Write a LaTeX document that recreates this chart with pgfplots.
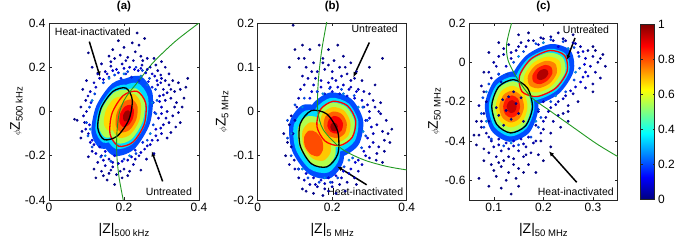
\documentclass[border=0pt]{standalone}
\usepackage{pgfplots}
\pgfplotsset{compat=1.18}
\usepackage{fontspec}
\setmainfont{Liberation Sans}
\usetikzlibrary{arrows.meta}
\definecolor{c20}{rgb}{0,0.3,1}
\definecolor{c34}{rgb}{0,0.86,1}
\definecolor{c55}{rgb}{0.7,1,0.3}
\definecolor{c66}{rgb}{1,0.86,0}
\definecolor{c68}{rgb}{1,0.78,0}
\definecolor{c75}{rgb}{1,0.5,0}
\definecolor{c78}{rgb}{1,0.38,0}
\definecolor{c80}{rgb}{1,0.3,0}
\definecolor{c85}{rgb}{1,0.1,0}
\definecolor{c88}{rgb}{0.98,0,0}
\definecolor{c93}{rgb}{0.78,0,0}
\definecolor{c95}{rgb}{0.7,0,0}
\definecolor{c97}{rgb}{0.62,0,0}
\definecolor{mgreen}{rgb}{0.13,0.6,0.13}
\pgfplotsset{
 panel/.style={scale only axis, height=177pt, anchor=south west,
   axis line style={draw=black!85, line width=0.6pt},
   every tick/.style={black!85, line width=0.5pt},
   major tick length=2.5pt, tick align=inside,
   tick label style={font=\fontsize{12}{12}\selectfont},
   /pgf/number format/assume math mode=true,
   /pgf/number format/fixed,
   colormap/jet, point meta min=0, point meta max=1,
   xlabel style={at={(axis description cs:0.5,0)}, anchor=north, yshift=-23pt, inner sep=0pt, font=\fontsize{14}{14}\selectfont},
   ylabel style={at={(axis description cs:0,0.5)}, anchor=south, inner sep=0pt, font=\fontsize{14}{14}\selectfont},
   title style={at={(axis description cs:0.5,1)}, anchor=south, yshift=5pt, inner sep=0pt, font=\fontsize{11.5}{12}\selectfont\bfseries},
 },
 lay/.style={draw=none, fill=#1, smooth cycle, forget plot},
 ell/.style={draw=#1, line width=1.3pt, smooth cycle, forget plot},
 pts/.style={scatter, only marks, mark=*, mark size=1.2pt, point meta=explicit, forget plot},
 grn/.style={draw=mgreen, line width=0.9pt, smooth, forget plot, no markers},
}
\tikzset{
 ann/.style={font=\fontsize{10.5}{11}\selectfont, inner sep=0pt},
 arr/.style={-{Latex[length=5pt,width=4.5pt]}, line width=1.5pt, black},
}
\newcommand{\sub}[1]{\raisebox{-2.8pt}{\fontsize{9.5}{10}\selectfont #1}}
\newcommand{\phz}{{\fontsize{9}{9}\selectfont$\phi$}Z}
\begin{document}
\begin{tikzpicture}
\useasboundingbox (0,0) rectangle (675pt,243pt);
% ---------------- (a)
\begin{axis}[panel, at={(49pt,43pt)}, width=150pt,
  xmin=0, xmax=0.4, ymin=-0.4, ymax=0.4,
  xtick={0,0.2,0.4}, ytick={-0.4,-0.2,0,0.2,0.4},
  title={(a)}, xlabel={|Z|\sub{500 kHz}}, ylabel={\phz\sub{500 kHz}},
  ylabel style={yshift=26pt}]
\addplot[pts] coordinates {
(0.150,0.180)[0.08] (0.165,0.205)[0.06] (0.180,0.190)[0.1] (0.195,0.215)[0.07] (0.205,0.170)[0.14] (0.215,0.200)[0.09] (0.225,0.230)[0.06] (0.238,0.185)[0.11] (0.248,0.210)[0.07] (0.258,0.175)[0.12] (0.270,0.200)[0.06] (0.282,0.160)[0.09] (0.290,0.185)[0.05] (0.300,0.150)[0.07] (0.175,0.240)[0.04] (0.190,0.255)[0.05] (0.210,0.245)[0.05] (0.230,0.270)[0.03] (0.245,0.250)[0.04] (0.262,0.240)[0.05] (0.200,0.290)[0.03] (0.222,0.310)[0.03] (0.240,0.300)[0.03] (0.185,0.320)[0.02] (0.255,0.330)[0.02] (0.160,0.250)[0.04] (0.140,0.215)[0.05] (0.130,0.170)[0.07] (0.145,0.145)[0.12] (0.160,0.155)[0.14] (0.192,0.150)[0.17] (0.220,0.155)[0.16] (0.240,0.140)[0.17] (0.265,0.135)[0.14] (0.275,0.110)[0.15] (0.310,0.200)[0.04] (0.320,0.170)[0.05] (0.115,0.200)[0.04] (0.105,0.265)[0.02] (0.235,0.355)[0.02] (0.280,0.240)[0.03] (0.300,0.225)[0.04] (0.170,0.280)[0.03]
(0.290,0.120)[0.08] (0.305,0.100)[0.06] (0.320,0.120)[0.05] (0.335,0.090)[0.04] (0.350,0.100)[0.03] (0.365,0.110)[0.02] (0.295,0.070)[0.11] (0.310,0.050)[0.07] (0.325,0.060)[0.05] (0.340,0.040)[0.04] (0.355,0.020)[0.03] (0.300,0.020)[0.10] (0.315,0.000)[0.07] (0.330,-0.020)[0.05] (0.345,-0.005)[0.04] (0.292,-0.030)[0.10] (0.305,-0.060)[0.07] (0.320,-0.050)[0.05] (0.338,-0.070)[0.04] (0.285,-0.080)[0.12] (0.300,-0.100)[0.08] (0.315,-0.120)[0.05] (0.330,0.140)[0.03] (0.345,0.130)[0.03] (0.360,0.060)[0.02] (0.370,0.150)[0.02] (0.278,0.040)[0.16] (0.282,-0.005)[0.16] (0.350,-0.050)[0.03]
(0.150,-0.180)[0.12] (0.140,-0.200)[0.08] (0.160,-0.215)[0.09] (0.175,-0.200)[0.13] (0.130,-0.230)[0.05] (0.150,-0.245)[0.07] (0.170,-0.250)[0.06] (0.185,-0.235)[0.09] (0.140,-0.270)[0.04] (0.160,-0.280)[0.04] (0.180,-0.285)[0.04] (0.155,-0.310)[0.03] (0.175,-0.330)[0.02] (0.125,-0.300)[0.02] (0.200,-0.260)[0.05] (0.210,-0.220)[0.10] (0.225,-0.240)[0.06] (0.240,-0.200)[0.09] (0.255,-0.170)[0.10] (0.270,-0.150)[0.09] (0.260,-0.215)[0.05] (0.280,-0.190)[0.05] (0.245,-0.265)[0.03] (0.115,-0.180)[0.06] (0.120,-0.150)[0.10] (0.105,-0.205)[0.04] (0.195,-0.300)[0.03] (0.135,-0.160)[0.14] (0.230,-0.175)[0.15] (0.250,-0.140)[0.16] (0.290,-0.130)[0.07] (0.215,-0.270)[0.04]
(0.105,-0.100)[0.08] (0.095,-0.050)[0.06] (0.100,0.000)[0.07] (0.098,0.050)[0.05] (0.110,0.090)[0.08] (0.085,-0.120)[0.04] (0.075,-0.040)[0.03] (0.068,-0.035)[0.02] (0.090,0.100)[0.04] (0.110,-0.140)[0.10] (0.120,0.130)[0.08] (0.112,0.040)[0.14] (0.108,-0.060)[0.13] (0.100,0.140)[0.05]
(0.155,0.170)[0.1] (0.170,0.185)[0.12] (0.185,0.175)[0.15] (0.200,0.195)[0.1] (0.228,0.190)[0.12] (0.245,0.195)[0.09] (0.262,0.190)[0.08] (0.275,0.170)[0.1] (0.288,0.140)[0.1] (0.298,0.130)[0.08] (0.310,0.140)[0.06] (0.298,0.165)[0.06] (0.315,0.085)[0.07] (0.305,0.075)[0.08] (0.295,0.045)[0.12] (0.300,-0.010)[0.1] (0.312,-0.030)[0.07] (0.298,-0.075)[0.09] (0.285,-0.110)[0.1] (0.275,-0.130)[0.1] (0.262,-0.155)[0.1] (0.245,-0.185)[0.1] (0.220,-0.205)[0.11] (0.195,-0.225)[0.1] (0.170,-0.230)[0.09] (0.145,-0.220)[0.09] (0.125,-0.190)[0.09] (0.115,-0.130)[0.12] (0.098,-0.080)[0.09] (0.092,-0.020)[0.07] (0.104,0.070)[0.08] (0.125,0.110)[0.1] (0.135,0.150)[0.09] (0.165,0.225)[0.05] (0.205,0.230)[0.06] (0.250,0.230)[0.05] (0.285,0.210)[0.04] (0.325,0.100)[0.04] (0.335,0.020)[0.04] (0.325,-0.095)[0.04] (0.165,-0.265)[0.05] (0.190,-0.270)[0.05] (0.145,-0.290)[0.03] (0.230,-0.215)[0.07] (0.120,-0.260)[0.03] (0.210,-0.290)[0.03] (0.085,0.020)[0.04] (0.088,-0.090)[0.04]
(0.249,0.185)[0.2] (0.268,0.150)[0.2] (0.284,0.100)[0.2] (0.288,0.050)[0.22] (0.285,-0.010)[0.22] (0.278,-0.060)[0.2] (0.262,-0.130)[0.2] (0.232,-0.190)[0.2] (0.200,-0.215)[0.2] (0.165,-0.225)[0.2] (0.138,-0.205)[0.2] (0.115,-0.160)[0.2] (0.104,-0.110)[0.22] (0.100,-0.050)[0.2] (0.108,0.020)[0.2] (0.122,0.080)[0.2] (0.145,0.130)[0.2] (0.175,0.165)[0.2] (0.210,0.180)[0.2] (0.232,0.200)[0.18]
(0.262,0.120)[0.26] (0.275,0.040)[0.27] (0.270,-0.100)[0.26] (0.215,-0.200)[0.27] (0.150,-0.200)[0.26] (0.110,-0.080)[0.27] (0.115,0.050)[0.26] (0.160,0.150)[0.27] (0.200,0.170)[0.26] (0.245,0.160)[0.26]
};
\addplot[lay=c20] coordinates {(0.243,0.160) (0.276,0.082) (0.269,-0.055) (0.226,-0.172) (0.172,-0.200) (0.138,-0.122) (0.145,0.015) (0.188,0.132)};
\addplot[lay=c20] coordinates {(0.215,0.147) (0.239,0.076) (0.226,-0.045) (0.184,-0.146) (0.137,-0.167) (0.113,-0.096) (0.126,0.025) (0.168,0.126)};
\addplot[lay=c34] coordinates {(0.236,0.129) (0.264,0.065) (0.259,-0.049) (0.223,-0.146) (0.178,-0.169) (0.150,-0.105) (0.156,0.009) (0.191,0.106)};
\addplot[lay=c34] coordinates {(0.208,0.120) (0.228,0.062) (0.217,-0.039) (0.182,-0.123) (0.144,-0.140) (0.124,-0.082) (0.135,0.019) (0.170,0.103)};
\addplot[lay=c55] coordinates {(0.232,0.104) (0.255,0.050) (0.250,-0.044) (0.220,-0.125) (0.183,-0.144) (0.159,-0.090) (0.164,0.004) (0.194,0.085)};
\addplot[lay=c55] coordinates {(0.203,0.097) (0.219,0.049) (0.210,-0.034) (0.181,-0.103) (0.150,-0.117) (0.133,-0.069) (0.142,0.014) (0.171,0.083)};
\addplot[lay=c66] coordinates {(0.195,0.066) (0.206,0.032) (0.200,-0.027) (0.180,-0.076) (0.157,-0.086) (0.146,-0.052) (0.152,0.007) (0.172,0.056)};
\addplot[lay=c68] coordinates {(0.227,0.079) (0.245,0.036) (0.241,-0.040) (0.217,-0.104) (0.187,-0.119) (0.169,-0.076) (0.173,0.000) (0.197,0.064)};
\addplot[lay=c78] coordinates {(0.222,0.054) (0.236,0.022) (0.233,-0.035) (0.215,-0.083) (0.192,-0.094) (0.178,-0.062) (0.181,-0.005) (0.199,0.043)};
\addplot[lay=c88] coordinates {(0.217,0.030) (0.226,0.008) (0.224,-0.030) (0.212,-0.062) (0.197,-0.070) (0.188,-0.048) (0.190,-0.010) (0.202,0.022)};
\addplot[lay=c97] coordinates {(0.212,0.005) (0.217,-0.006) (0.216,-0.025) (0.210,-0.041) (0.202,-0.045) (0.198,-0.034) (0.198,-0.015) (0.204,0.001)};
\addplot[ell=red] coordinates {(0.235,0.091) (0.258,0.037) (0.254,-0.057) (0.224,-0.138) (0.186,-0.157) (0.163,-0.103) (0.168,-0.009) (0.198,0.072)};
\addplot[ell=black] coordinates {(0.205,0.106) (0.222,0.053) (0.213,-0.037) (0.182,-0.111) (0.147,-0.127) (0.130,-0.074) (0.139,0.016) (0.170,0.090)};
\addplot[grn] coordinates {(0.198,-0.40) (0.187,-0.30) (0.181,-0.20) (0.181,-0.10) (0.187,-0.01) (0.200,0.05) (0.216,0.09) (0.240,0.14) (0.277,0.22) (0.336,0.316) (0.40,0.40)};
\node[ann] at (axis cs:0.117,0.361) {Heat-inactivated};
\draw[arr] (axis cs:0.1075,0.316) -- (axis cs:0.136,0.158);
\node[ann] at (axis cs:0.3195,-0.3635) {Untreated};
\draw[arr] (axis cs:0.303,-0.316) -- (axis cs:0.274,-0.180);
\end{axis}
% ---------------- (b)
\begin{axis}[panel, at={(257.7pt,43pt)}, width=149pt,
  xmin=0, xmax=0.4, ymin=-0.2, ymax=0.2,
  xtick={0,0.2,0.4}, ytick={-0.2,-0.1,0,0.1,0.2},
  title={(b)}, xlabel={|Z|\sub{5 MHz}}, ylabel={\phz\sub{5 MHz}},
  ylabel style={yshift=29pt}]
\addplot[pts] coordinates {
(0.140,0.030)[0.14] (0.160,0.045)[0.12] (0.180,0.040)[0.15] (0.200,0.045)[0.14] (0.220,0.040)[0.15] (0.240,0.035)[0.14] (0.260,0.030)[0.12] (0.150,0.060)[0.09] (0.170,0.070)[0.08] (0.190,0.065)[0.09] (0.210,0.070)[0.08] (0.230,0.060)[0.09] (0.250,0.055)[0.08] (0.270,0.050)[0.07] (0.135,0.075)[0.06] (0.160,0.090)[0.06] (0.180,0.095)[0.05] (0.200,0.090)[0.06] (0.220,0.100)[0.05] (0.240,0.085)[0.05] (0.130,0.100)[0.04] (0.150,0.110)[0.04] (0.175,0.120)[0.03] (0.205,0.115)[0.04] (0.230,0.125)[0.03] (0.120,0.080)[0.05] (0.110,0.120)[0.03] (0.140,0.140)[0.03] (0.190,0.140)[0.02] (0.100,0.140)[0.02] (0.085,0.100)[0.02] (0.115,0.050)[0.08] (0.280,0.070)[0.04] (0.300,0.040)[0.05] (0.260,0.075)[0.05] (0.120,0.150)[0.02] (0.095,0.195)[0.01] (0.215,0.150)[0.02] (0.165,0.150)[0.02] (0.300,0.100)[0.02] (0.335,0.120)[0.02] (0.250,0.110)[0.03]
(0.285,0.010)[0.12] (0.300,0.000)[0.09] (0.315,0.010)[0.06] (0.330,-0.005)[0.05] (0.345,-0.020)[0.04] (0.290,-0.020)[0.14] (0.305,-0.035)[0.10] (0.320,-0.030)[0.07] (0.335,-0.045)[0.05] (0.350,-0.050)[0.03] (0.295,-0.060)[0.12] (0.310,-0.070)[0.08] (0.325,-0.080)[0.06] (0.340,-0.090)[0.04] (0.355,-0.070)[0.03] (0.285,-0.090)[0.11] (0.300,-0.105)[0.07] (0.318,-0.110)[0.05] (0.335,-0.115)[0.03] (0.280,-0.120)[0.08] (0.360,-0.040)[0.02] (0.310,0.025)[0.05] (0.330,0.020)[0.04] (0.270,-0.110)[0.10]
(0.130,-0.140)[0.10] (0.150,-0.150)[0.09] (0.170,-0.155)[0.10] (0.190,-0.150)[0.11] (0.210,-0.145)[0.11] (0.230,-0.135)[0.12] (0.250,-0.130)[0.12] (0.140,-0.165)[0.06] (0.160,-0.170)[0.06] (0.180,-0.175)[0.05] (0.200,-0.170)[0.06] (0.220,-0.165)[0.05] (0.240,-0.160)[0.05] (0.260,-0.150)[0.06] (0.150,-0.185)[0.03] (0.175,-0.190)[0.03] (0.210,-0.185)[0.03] (0.120,-0.175)[0.03] (0.235,-0.180)[0.03] (0.270,-0.135)[0.07] (0.110,-0.150)[0.05]
(0.100,-0.020)[0.06] (0.095,-0.050)[0.06] (0.090,-0.080)[0.05] (0.098,-0.110)[0.06] (0.085,-0.030)[0.03] (0.080,-0.070)[0.03] (0.105,0.010)[0.08] (0.110,-0.130)[0.08] (0.075,-0.100)[0.02]
(0.145,0.045)[0.1] (0.170,0.055)[0.1] (0.195,0.055)[0.11] (0.215,0.055)[0.11] (0.245,0.050)[0.1] (0.265,0.045)[0.1] (0.155,0.075)[0.07] (0.200,0.075)[0.07] (0.225,0.080)[0.07] (0.250,0.070)[0.06] (0.145,0.090)[0.05] (0.190,0.105)[0.04] (0.235,0.100)[0.04] (0.265,0.090)[0.04] (0.285,0.045)[0.07] (0.280,0.025)[0.1] (0.295,0.015)[0.09] (0.300,-0.015)[0.1] (0.310,-0.050)[0.08] (0.300,-0.080)[0.09] (0.290,-0.100)[0.09] (0.262,-0.115)[0.11] (0.245,-0.140)[0.1] (0.225,-0.150)[0.09] (0.200,-0.160)[0.08] (0.180,-0.163)[0.08] (0.155,-0.165)[0.08] (0.125,-0.155)[0.08] (0.100,-0.130)[0.07] (0.085,-0.120)[0.05] (0.070,-0.050)[0.03] (0.090,-0.010)[0.05] (0.110,0.030)[0.07] (0.125,0.060)[0.07] (0.320,-0.095)[0.05] (0.340,-0.065)[0.04] (0.325,0.000)[0.05] (0.265,-0.165)[0.04] (0.190,-0.180)[0.04] (0.130,-0.180)[0.03] (0.315,0.060)[0.03] (0.175,0.110)[0.04] (0.125,0.120)[0.03]
(0.193,0.052)[0.2] (0.225,0.050)[0.2] (0.259,0.036)[0.2] (0.282,0.010)[0.22] (0.294,-0.020)[0.2] (0.290,-0.055)[0.2] (0.279,-0.082)[0.2] (0.255,-0.105)[0.22] (0.232,-0.125)[0.2] (0.215,-0.150)[0.2] (0.195,-0.160)[0.2] (0.165,-0.160)[0.2] (0.135,-0.150)[0.2] (0.110,-0.130)[0.2] (0.090,-0.100)[0.2] (0.080,-0.060)[0.2] (0.080,-0.020)[0.2] (0.100,0.015)[0.2] (0.125,0.030)[0.2] (0.160,0.045)[0.2]
(0.270,0.010)[0.27] (0.283,-0.045)[0.27] (0.245,-0.110)[0.27] (0.180,-0.150)[0.27] (0.120,-0.130)[0.27] (0.090,-0.050)[0.27] (0.120,0.010)[0.27] (0.175,0.040)[0.27] (0.230,0.040)[0.26]
};
\addplot[lay=c20] coordinates {(0.195,0.043) (0.252,0.028) (0.283,-0.020) (0.271,-0.075) (0.221,-0.103) (0.164,-0.088) (0.133,-0.040) (0.146,0.015)};
\addplot[lay=c20] coordinates {(0.122,0.015) (0.179,0.005) (0.224,-0.048) (0.230,-0.112) (0.194,-0.151) (0.137,-0.141) (0.092,-0.088) (0.086,-0.024)};
\addplot[lay=c34] coordinates {(0.197,0.031) (0.244,0.018) (0.270,-0.022) (0.260,-0.067) (0.219,-0.091) (0.172,-0.078) (0.146,-0.038) (0.156,0.007)};
\addplot[lay=c34] coordinates {(0.128,0.002) (0.176,-0.007) (0.214,-0.051) (0.219,-0.106) (0.189,-0.138) (0.140,-0.130) (0.102,-0.085) (0.097,-0.031)};
\addplot[lay=c55] coordinates {(0.199,0.020) (0.238,0.010) (0.260,-0.023) (0.251,-0.061) (0.217,-0.080) (0.178,-0.070) (0.156,-0.037) (0.165,0.001)};
\addplot[lay=c55] coordinates {(0.133,-0.011) (0.173,-0.018) (0.204,-0.054) (0.208,-0.099) (0.183,-0.125) (0.144,-0.118) (0.113,-0.082) (0.108,-0.037)};
\addplot[lay=c68] coordinates {(0.201,0.010) (0.232,0.002) (0.249,-0.025) (0.243,-0.055) (0.215,-0.070) (0.184,-0.062) (0.167,-0.035) (0.174,-0.005)};
\addplot[lay=c68] coordinates {(0.139,-0.025) (0.169,-0.030) (0.192,-0.058) (0.196,-0.091) (0.177,-0.111) (0.147,-0.106) (0.124,-0.079) (0.120,-0.045)};
\addplot[lay=c80] coordinates {(0.138,-0.043) (0.157,-0.047) (0.173,-0.065) (0.175,-0.087) (0.163,-0.101) (0.143,-0.097) (0.127,-0.079) (0.125,-0.057)};
\addplot[lay=c78] coordinates {(0.203,0.000) (0.226,-0.006) (0.239,-0.026) (0.234,-0.049) (0.214,-0.060) (0.190,-0.054) (0.177,-0.034) (0.182,-0.011)};
\addplot[lay=c88] coordinates {(0.204,-0.010) (0.220,-0.014) (0.229,-0.027) (0.225,-0.043) (0.212,-0.050) (0.196,-0.046) (0.187,-0.033) (0.191,-0.018)};
\addplot[lay=c97] coordinates {(0.203,-0.025) (0.211,-0.027) (0.215,-0.034) (0.214,-0.041) (0.207,-0.045) (0.199,-0.043) (0.195,-0.036) (0.196,-0.029)};
\addplot[ell=red] coordinates {(0.202,0.023) (0.241,0.013) (0.263,-0.020) (0.254,-0.058) (0.220,-0.077) (0.181,-0.067) (0.159,-0.034) (0.168,0.004)};
\addplot[ell=black] coordinates {(0.144,0.002) (0.186,-0.006) (0.215,-0.046) (0.215,-0.096) (0.186,-0.125) (0.144,-0.118) (0.114,-0.077) (0.114,-0.028)};
\addplot[grn] coordinates {(0.187,0.21) (0.172,0.139) (0.163,0.072) (0.161,0.004) (0.176,-0.041) (0.225,-0.084) (0.284,-0.109) (0.346,-0.124) (0.40,-0.132)};
\node[ann] at (axis cs:0.314,0.186) {Untreated};
\draw[arr] (axis cs:0.2997,0.156) -- (axis cs:0.2567,0.0777);
\node[ann] at (axis cs:0.2886,-0.181) {Heat-inactivated};
\draw[arr] (axis cs:0.2926,-0.1657) -- (axis cs:0.2137,-0.1243);
\end{axis}
% ---------------- (c)
\begin{axis}[panel, at={(469pt,43pt)}, width=148.7pt,
  xmin=0.05, xmax=0.35, ymin=-0.7, ymax=0.2,
  xtick={0.1,0.2,0.3}, ytick={-0.6,-0.4,-0.2,0,0.2},
  title={(c)}, xlabel={|Z|\sub{50 MHz}}, ylabel={\phz\sub{50 MHz}},
  ylabel style={yshift=28pt},
  colorbar, colorbar style={at={(parent axis.north east)}, anchor=north west, xshift=14.3pt, yshift=-1pt,
    scale only axis, width=14pt, height=175pt, ytick={0,0.2,0.4,0.6,0.8,1}, yticklabel pos=right,
    tick label style={font=\fontsize{12}{12}\selectfont},
    /pgf/number format/assume math mode=true, /pgf/number format/fixed,
    major tick length=2pt, axis line style={draw=black!85, line width=0.5pt}}]
\addplot[pts] coordinates {
(0.090,0.050)[0.03] (0.100,0.000)[0.05] (0.110,0.030)[0.06] (0.120,0.070)[0.04] (0.125,-0.020)[0.09] (0.135,0.020)[0.08] (0.145,0.060)[0.06] (0.155,0.100)[0.04] (0.165,0.080)[0.07] (0.180,0.110)[0.05] (0.200,0.120)[0.04] (0.220,0.110)[0.06] (0.240,0.120)[0.04] (0.260,0.100)[0.05] (0.275,0.080)[0.06] (0.290,0.060)[0.04] (0.300,0.030)[0.05] (0.310,0.000)[0.04] (0.320,0.040)[0.03] (0.270,0.050)[0.12] (0.285,0.020)[0.10] (0.295,-0.020)[0.08] (0.305,-0.050)[0.06] (0.315,-0.080)[0.04] (0.300,-0.110)[0.05] (0.285,-0.130)[0.07] (0.275,-0.100)[0.12] (0.290,-0.070)[0.11] (0.325,-0.020)[0.03] (0.150,0.140)[0.03] (0.170,0.150)[0.02] (0.230,0.150)[0.03] (0.260,0.140)[0.02] (0.080,-0.050)[0.03] (0.095,-0.080)[0.06] (0.110,-0.060)[0.09] (0.190,0.090)[0.09] (0.230,0.080)[0.12] (0.110,0.100)[0.03] (0.300,0.080)[0.02]
(0.200,-0.200)[0.09] (0.215,-0.230)[0.07] (0.230,-0.200)[0.06] (0.245,-0.170)[0.08] (0.260,-0.160)[0.06] (0.190,-0.250)[0.09] (0.205,-0.280)[0.06] (0.220,-0.300)[0.05] (0.240,-0.260)[0.04] (0.185,-0.320)[0.06] (0.200,-0.340)[0.05] (0.215,-0.360)[0.04] (0.235,-0.330)[0.03] (0.250,-0.220)[0.04] (0.195,-0.400)[0.03] (0.215,-0.430)[0.02] (0.250,-0.300)[0.02] (0.270,-0.200)[0.03]
(0.080,-0.150)[0.04] (0.085,-0.200)[0.06] (0.080,-0.260)[0.05] (0.090,-0.300)[0.07] (0.075,-0.330)[0.04] (0.070,-0.370)[0.03] (0.060,-0.370)[0.02] (0.085,-0.360)[0.05] (0.095,-0.400)[0.06] (0.110,-0.390)[0.09] (0.125,-0.410)[0.10] (0.140,-0.400)[0.11] (0.155,-0.390)[0.10] (0.170,-0.380)[0.09] (0.100,-0.430)[0.06] (0.115,-0.450)[0.06] (0.130,-0.440)[0.07] (0.150,-0.450)[0.06] (0.165,-0.430)[0.06] (0.180,-0.410)[0.06] (0.090,-0.460)[0.04] (0.105,-0.480)[0.04] (0.120,-0.500)[0.04] (0.140,-0.490)[0.04] (0.160,-0.480)[0.04] (0.175,-0.460)[0.04] (0.095,-0.520)[0.03] (0.115,-0.530)[0.03] (0.130,-0.560)[0.03] (0.150,-0.540)[0.03] (0.170,-0.520)[0.03] (0.105,-0.580)[0.02] (0.125,-0.600)[0.02] (0.145,-0.590)[0.02] (0.090,-0.630)[0.02] (0.115,-0.640)[0.02] (0.135,-0.670)[0.01] (0.070,-0.590)[0.02] (0.150,-0.630)[0.02] (0.190,-0.470)[0.03] (0.200,-0.500)[0.02] (0.080,-0.440)[0.03] (0.065,-0.420)[0.02] (0.185,-0.560)[0.02]
(0.120,0.040)[0.06] (0.135,0.050)[0.07] (0.150,0.080)[0.06] (0.170,0.110)[0.06] (0.195,0.125)[0.05] (0.215,0.130)[0.05] (0.245,0.110)[0.07] (0.265,0.095)[0.08] (0.280,0.055)[0.1] (0.283,-0.010)[0.12] (0.285,-0.050)[0.1] (0.280,-0.075)[0.11] (0.265,-0.125)[0.1] (0.255,-0.145)[0.1] (0.240,-0.185)[0.09] (0.225,-0.215)[0.09] (0.210,-0.250)[0.08] (0.200,-0.300)[0.08] (0.195,-0.360)[0.07] (0.185,-0.400)[0.07] (0.160,-0.415)[0.08] (0.140,-0.425)[0.09] (0.110,-0.420)[0.08] (0.090,-0.380)[0.07] (0.075,-0.300)[0.06] (0.070,-0.220)[0.05] (0.075,-0.120)[0.05] (0.090,-0.050)[0.06] (0.105,-0.020)[0.07] (0.115,-0.100)[0.1] (0.165,-0.470)[0.04] (0.130,-0.480)[0.04] (0.110,-0.510)[0.03] (0.140,-0.520)[0.03] (0.100,-0.550)[0.02] (0.160,-0.560)[0.02] (0.080,-0.500)[0.02] (0.065,-0.300)[0.03] (0.230,-0.270)[0.04] (0.250,-0.250)[0.03] (0.300,-0.150)[0.03] (0.315,0.020)[0.03] (0.305,0.060)[0.03] (0.130,0.090)[0.03]
(0.262,0.075)[0.2] (0.240,0.105)[0.2] (0.215,0.115)[0.2] (0.185,0.095)[0.2] (0.160,0.055)[0.2] (0.140,0.000)[0.2] (0.127,-0.060)[0.2] (0.272,0.030)[0.2] (0.273,-0.030)[0.2] (0.262,-0.090)[0.2] (0.245,-0.150)[0.2] (0.215,-0.200)[0.2] (0.190,-0.240)[0.2] (0.195,-0.280)[0.2] (0.190,-0.330)[0.2] (0.175,-0.380)[0.2] (0.150,-0.420)[0.2] (0.120,-0.425)[0.2] (0.095,-0.390)[0.2] (0.080,-0.330)[0.2] (0.075,-0.260)[0.2] (0.078,-0.180)[0.2] (0.090,-0.110)[0.2] (0.110,-0.060)[0.2]
(0.250,0.070)[0.27] (0.200,0.100)[0.27] (0.150,0.030)[0.27] (0.265,-0.050)[0.27] (0.225,-0.170)[0.27] (0.185,-0.300)[0.27] (0.135,-0.410)[0.27] (0.085,-0.300)[0.27] (0.085,-0.150)[0.27]
};
\addplot[lay=c20] coordinates {(0.255,0.059) (0.215,0.093) (0.166,0.036) (0.135,-0.078) (0.141,-0.183) (0.181,-0.217) (0.231,-0.160) (0.261,-0.046)};
\addplot[lay=c20] coordinates {(0.140,-0.046) (0.177,-0.103) (0.190,-0.232) (0.172,-0.356) (0.132,-0.404) (0.095,-0.347) (0.082,-0.218) (0.101,-0.094)};
\addplot[lay=c34] coordinates {(0.246,0.041) (0.213,0.069) (0.170,0.021) (0.144,-0.076) (0.150,-0.165) (0.183,-0.193) (0.226,-0.145) (0.252,-0.048)};
\addplot[lay=c34] coordinates {(0.139,-0.073) (0.171,-0.122) (0.182,-0.231) (0.166,-0.336) (0.133,-0.377) (0.101,-0.328) (0.090,-0.219) (0.106,-0.114)};
\addplot[lay=c55] coordinates {(0.239,0.025) (0.211,0.049) (0.175,0.009) (0.153,-0.074) (0.157,-0.149) (0.186,-0.173) (0.221,-0.133) (0.244,-0.050)};
\addplot[lay=c55] coordinates {(0.139,-0.096) (0.166,-0.137) (0.175,-0.230) (0.162,-0.320) (0.133,-0.354) (0.107,-0.313) (0.097,-0.220) (0.110,-0.131)};
\addplot[lay=c66] coordinates {(0.232,0.009) (0.208,0.029) (0.179,-0.004) (0.161,-0.072) (0.164,-0.133) (0.188,-0.153) (0.217,-0.120) (0.235,-0.053)};
\addplot[lay=c66] coordinates {(0.138,-0.119) (0.160,-0.153) (0.168,-0.229) (0.157,-0.303) (0.134,-0.331) (0.112,-0.297) (0.104,-0.221) (0.115,-0.147)};
\addplot[lay=c75] coordinates {(0.224,-0.007) (0.206,0.008) (0.183,-0.018) (0.169,-0.069) (0.172,-0.117) (0.190,-0.132) (0.213,-0.107) (0.227,-0.055)};
\addplot[lay=c75] coordinates {(0.138,-0.144) (0.155,-0.170) (0.161,-0.228) (0.152,-0.285) (0.134,-0.306) (0.117,-0.280) (0.111,-0.222) (0.120,-0.165)};
\addplot[lay=c85] coordinates {(0.216,-0.024) (0.204,-0.013) (0.188,-0.031) (0.178,-0.067) (0.180,-0.100) (0.193,-0.111) (0.208,-0.093) (0.218,-0.057)};
\addplot[lay=c85] coordinates {(0.137,-0.168) (0.149,-0.186) (0.153,-0.227) (0.147,-0.267) (0.135,-0.282) (0.123,-0.264) (0.119,-0.223) (0.125,-0.183)};
\addplot[lay=c95] coordinates {(0.208,-0.040) (0.201,-0.034) (0.192,-0.044) (0.187,-0.065) (0.188,-0.084) (0.195,-0.090) (0.204,-0.080) (0.210,-0.059)};
\addplot[lay=c93] coordinates {(0.137,-0.192) (0.144,-0.203) (0.146,-0.226) (0.143,-0.249) (0.135,-0.258) (0.129,-0.247) (0.126,-0.224) (0.130,-0.201)};
\addplot[pts] coordinates {(0.118,-0.190)[0.02] (0.130,-0.175)[0.02] (0.145,-0.210)[0.02] (0.125,-0.245)[0.02] (0.150,-0.260)[0.02] (0.135,-0.290)[0.02] (0.110,-0.270)[0.02] (0.155,-0.180)[0.02] (0.120,-0.320)[0.02] (0.160,-0.300)[0.02] (0.140,-0.150)[0.02] (0.105,-0.230)[0.02]};
\addplot[ell=red] coordinates {(0.243,0.035) (0.213,0.060) (0.175,0.017) (0.152,-0.069) (0.157,-0.149) (0.187,-0.174) (0.225,-0.131) (0.248,-0.045)};
\addplot[ell=black] coordinates {(0.140,-0.088) (0.168,-0.131) (0.178,-0.229) (0.164,-0.323) (0.134,-0.359) (0.106,-0.316) (0.096,-0.219) (0.110,-0.124)};
\addplot[grn] coordinates {(0.136,0.20) (0.126,0.094) (0.129,0.009) (0.149,-0.088) (0.176,-0.178) (0.213,-0.246) (0.26,-0.33) (0.308,-0.415) (0.35,-0.479)};
\node[ann] at (axis cs:0.286,0.165) {Untreated};
\draw[arr] (axis cs:0.2639,0.124) -- (axis cs:0.2471,0.012);
\node[ann] at (axis cs:0.2655,-0.656) {Heat-inactivated};
\draw[arr] (axis cs:0.2673,-0.610) -- (axis cs:0.2114,-0.4525);
\end{axis}
\end{tikzpicture}
\end{document}
